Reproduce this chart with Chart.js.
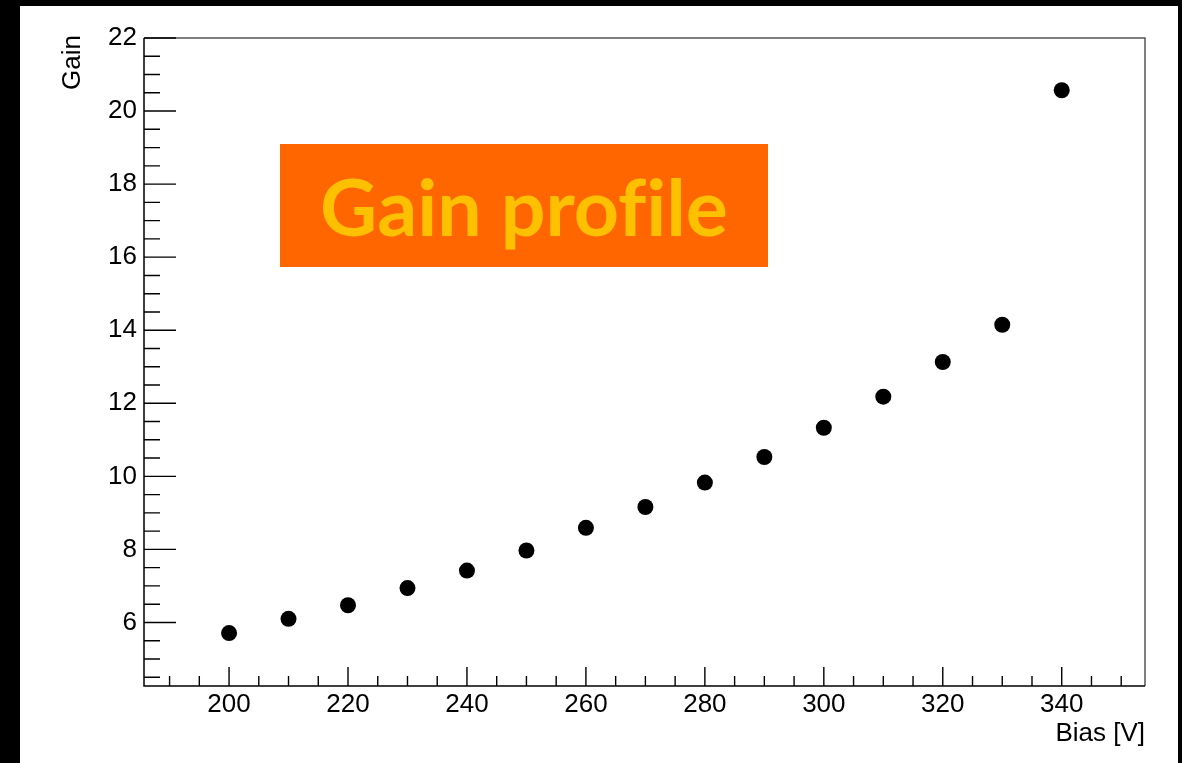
<!DOCTYPE html>
<html>
<head>
<meta charset="utf-8">
<title>Gain profile</title>
<script src="https://cdn.jsdelivr.net/npm/chart.js@4.4.1/dist/chart.umd.min.js"></script>
<style>
  html, body { margin: 0; padding: 0; width: 1182px; height: 763px; background: #000; overflow: hidden; }
  #wrap { position: absolute; left: 20px; top: 6px; width: 1158px; height: 757px; background: #fff; }
</style>
</head>
<body>
<div id="wrap"><canvas id="myChart" width="1158" height="757"></canvas></div>
<script>
// bias voltage [V]
const bias = [200, 210, 220, 230, 240, 250, 260, 270, 280, 290, 300, 310, 320, 330, 340];
// measured gain
const gain = [5.71, 6.10, 6.47, 6.94, 7.42, 7.97, 8.59, 9.16, 9.83, 10.53, 11.33, 12.18, 13.13, 14.15, 20.57];

// axis ticks (major labels)
const xTicks = [200, 220, 240, 260, 280, 300, 320, 340];
const yTicks = [6, 8, 10, 12, 14, 16, 18, 20, 22];
const xRange = [185.7, 354];
const yRange = [4.26, 22];
const xMinorStep = 5;
const yMinorStep = 0.5;

const xTitle = 'Bias [V]';
const yTitle = 'Gain';
const boxTitle = 'Gain profile';

Chart.defaults.font.family = '"Liberation Sans", Arial, sans-serif';
Chart.defaults.color = '#000';

// ROOT style frame: inside ticks, axis titles, orange title box
const rootFrame = {
  id: 'rootFrame',
  afterDraw(chart) {
    const { ctx, chartArea: a, scales: { x, y } } = chart;
    ctx.save();

    // top and right frame
    ctx.strokeStyle = '#555';
    ctx.lineWidth = 1.5;
    ctx.beginPath();
    ctx.moveTo(a.left, a.top);
    ctx.lineTo(a.right, a.top);
    ctx.lineTo(a.right, a.bottom);
    ctx.stroke();

    // left and bottom axes
    ctx.strokeStyle = '#000';
    ctx.beginPath();
    ctx.moveTo(a.left, a.top);
    ctx.lineTo(a.left, a.bottom);
    ctx.lineTo(a.right, a.bottom);
    ctx.stroke();

    // y ticks
    ctx.lineWidth = 1.4;
    ctx.beginPath();
    const nY = Math.floor((y.max - y.min) / yMinorStep + 1e-6);
    const y0 = Math.ceil(y.min / yMinorStep - 1e-6) * yMinorStep;
    for (let i = 0; i <= nY; i++) {
      const v = +(y0 + i * yMinorStep).toFixed(3);
      if (v > y.max + 1e-6) break;
      const py = y.getPixelForValue(v);
      const len = yTicks.includes(v) ? 32 : 16;
      ctx.moveTo(a.left, py);
      ctx.lineTo(a.left + len, py);
    }
    // x ticks
    const x0 = Math.ceil(x.min / xMinorStep) * xMinorStep;
    for (let v = x0; v <= x.max; v += xMinorStep) {
      const px = x.getPixelForValue(v);
      const len = xTicks.includes(v) ? 19 : 10;
      ctx.moveTo(px, a.bottom);
      ctx.lineTo(px, a.bottom - len);
    }
    ctx.stroke();

    // axis titles
    ctx.fillStyle = '#000';
    ctx.font = '26px "Liberation Sans", Arial, sans-serif';
    ctx.textAlign = 'right';
    ctx.textBaseline = 'alphabetic';
    ctx.fillText(xTitle, a.right, 735);

    ctx.save();
    ctx.translate(60, 29);
    ctx.rotate(-Math.PI / 2);
    ctx.textAlign = 'right';
    ctx.fillText(yTitle, 0, 0);
    ctx.restore();

    // title box (no "fi" ligature, as in the original)
    const bx = 260, by = 138, bw = 488, bh = 123;
    const txt = boxTitle.replace('fi', 'f\u200Ci');
    ctx.fillStyle = '#ff6600';
    ctx.fillRect(bx, by, bw, bh);
    let size = 80;
    ctx.font = 'bold ' + size + 'px Lato, "Open Sans", sans-serif';
    const w = ctx.measureText(txt).width;
    size = size * 408 / w;
    ctx.font = 'bold ' + size.toFixed(1) + 'px Lato, "Open Sans", sans-serif';
    ctx.fillStyle = '#ffc000';
    ctx.textAlign = 'center';
    ctx.fillText(txt, bx + bw / 2, 230);

    ctx.restore();
  }
};

const ctx = document.getElementById('myChart').getContext('2d');
const chart = new Chart(ctx, {
  type: 'scatter',
  data: {
    datasets: [{
      label: yTitle,
      data: bias.map((b, i) => ({ x: b, y: gain[i] })),
      pointRadius: 8,
      pointHoverRadius: 8,
      pointBackgroundColor: '#000',
      pointBorderColor: '#000',
      pointBorderWidth: 0
    }]
  },
  options: {
    responsive: false,
    animation: false,
    devicePixelRatio: 1,
    layout: { padding: { left: 0, right: 33, top: 32, bottom: 0 } },
    plugins: { legend: { display: false }, tooltip: { enabled: false } },
    scales: {
      x: {
        type: 'linear',
        min: xRange[0],
        max: xRange[1],
        grid: { display: false, drawTicks: false },
        border: { display: false },
        ticks: { padding: 3, font: { size: 26 }, color: '#000' },
        afterBuildTicks: s => { s.ticks = xTicks.map(v => ({ value: v })); },
        afterFit: s => { s.height = 77; }
      },
      y: {
        type: 'linear',
        min: yRange[0],
        max: yRange[1],
        grid: { display: false, drawTicks: false },
        border: { display: false },
        ticks: { padding: 7, font: { size: 26 }, color: '#000' },
        afterBuildTicks: s => { s.ticks = yTicks.map(v => ({ value: v })); },
        afterFit: s => { s.width = 124; }
      }
    }
  },
  plugins: [rootFrame]
});
</script>
</body>
</html>
